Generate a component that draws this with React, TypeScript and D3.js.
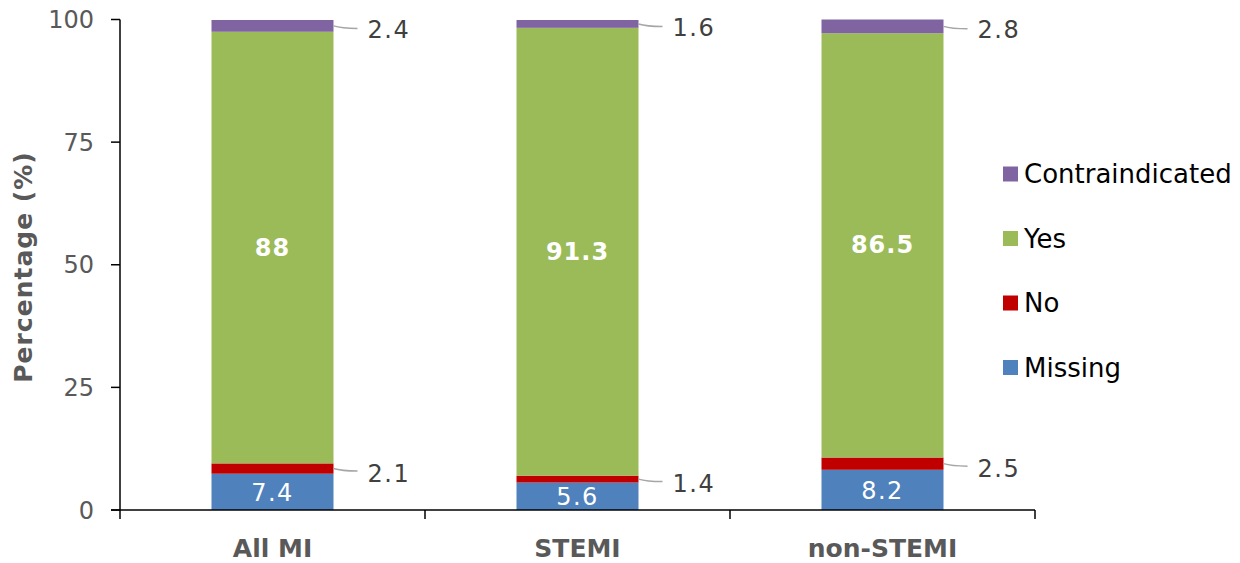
import React from "react";
import * as d3 from "d3";

const categories = ["All MI", "STEMI", "non-STEMI"];
const seriesNames = ["Missing", "No", "Yes", "Contraindicated"];
const missing = [7.4, 5.6, 8.2];
const no = [2.1, 1.4, 2.5];
const yes = [88, 91.3, 86.5];
const contraindicated = [2.4, 1.6, 2.8];
const colors = ["#4F81BD", "#C00000", "#9BBB59", "#8064A2"];
const yTicks = [0, 25, 50, 75, 100];

const W = 1240, H = 563;
const left = 120, right = 1035, top = 19.5, bottom = 510;
const FONT = "'DejaVu Sans', Verdana, sans-serif";

export default function App() {
  const x = d3.scaleBand<string>().domain(categories).range([left, right]).paddingInner(0.6).paddingOuter(0.3);
  const y = d3.scaleLinear().domain([0, 100]).range([bottom, top]);
  const rows = categories.map((c, i) => ({
    cat: c,
    Missing: missing[i],
    No: no[i],
    Yes: yes[i],
    Contraindicated: contraindicated[i],
  }));
  const stacked = d3.stack<any>().keys(seriesNames)(rows);
  const bw = x.bandwidth();
  const edges = [left, ...categories.map((c) => (x(c)! + bw / 2 + x.step() / 2))];

  return (
    <svg width={W} height={H} style={{ position: "absolute", left: 0, top: 0 }} fontFamily={FONT}>
      <rect width={W} height={H} fill="#fff" />
      {stacked.map((s, si) =>
        s.map((d, i) => (
          <rect key={si + "-" + i} x={x(categories[i])} width={bw} y={y(d[1])} height={y(d[0]) - y(d[1])} fill={colors[si]} />
        ))
      )}
      {stacked.map((s, si) =>
        s.map((d, i) => {
          const cx = x(categories[i])! + bw / 2;
          const cy = y((d[0] + d[1]) / 2);
          const v = d[1] - d[0];
          const txt = String(Math.round(v * 10) / 10);
          if (si === 0) {
            return (
              <text key={"l" + si + i} x={cx} y={cy + 9} textAnchor="middle" fill="#fff" fontSize={24} letterSpacing={1.5}>{txt}</text>
            );
          }
          if (si === 2) {
            return (
              <text key={"l" + si + i} x={cx} y={cy + 8} textAnchor="middle" fill="#fff" fontSize={24} fontWeight="bold" letterSpacing={1}>{txt}</text>
            );
          }
          const bx = x(categories[i])! + bw;
          const ty = si === 1 ? cy + 4 : cy + 3;
          return (
            <g key={"l" + si + i}>
              <path d={`M${bx},${cy} Q${bx + 8},${cy + 2.5} ${bx + 24},${cy + 2.5}`} fill="none" stroke="#A6A6A6" strokeWidth={1.5} />
              <text x={bx + 34} y={ty + 9} fill="#404040" fontSize={24} letterSpacing={1.5}>{txt}</text>
            </g>
          );
        })
      )}
      <line x1={left} x2={left} y1={top} y2={bottom} stroke="#000" strokeWidth={1.5} />
      {yTicks.map((t) => (
        <g key={t}>
          <line x1={left - 9} x2={left} y1={y(t)} y2={y(t)} stroke="#000" strokeWidth={1.5} />
          <text x={94} y={y(t) + 8.5} textAnchor="end" fill="#595959" fontSize={24}>{t}</text>
        </g>
      ))}
      <line x1={left - 9} x2={right} y1={bottom} y2={bottom} stroke="#000" strokeWidth={1.5} />
      {edges.map((e, i) => (
        <line key={i} x1={e} x2={e} y1={bottom} y2={bottom + 9} stroke="#000" strokeWidth={1.5} />
      ))}
      {categories.map((c) => (
        <text key={c} x={x(c)! + bw / 2} y={557} textAnchor="middle" fill="#595959" fontSize={25} fontWeight="bold">{c}</text>
      ))}
      <text transform={`translate(32,267) rotate(-90)`} textAnchor="middle" fill="#595959" fontSize={25} fontWeight="bold" letterSpacing={1}>Percentage (%)</text>
      {[...seriesNames].reverse().map((n, i) => {
        const cy = 174 + i * 64.5;
        const c = colors[seriesNames.indexOf(n)];
        return (
          <g key={n}>
            <rect x={1003} y={cy - 7.5} width={15} height={15} fill={c} />
            <text x={1024} y={cy + 9} fill="#000" fontSize={26}>{n}</text>
          </g>
        );
      })}
    </svg>
  );
}
